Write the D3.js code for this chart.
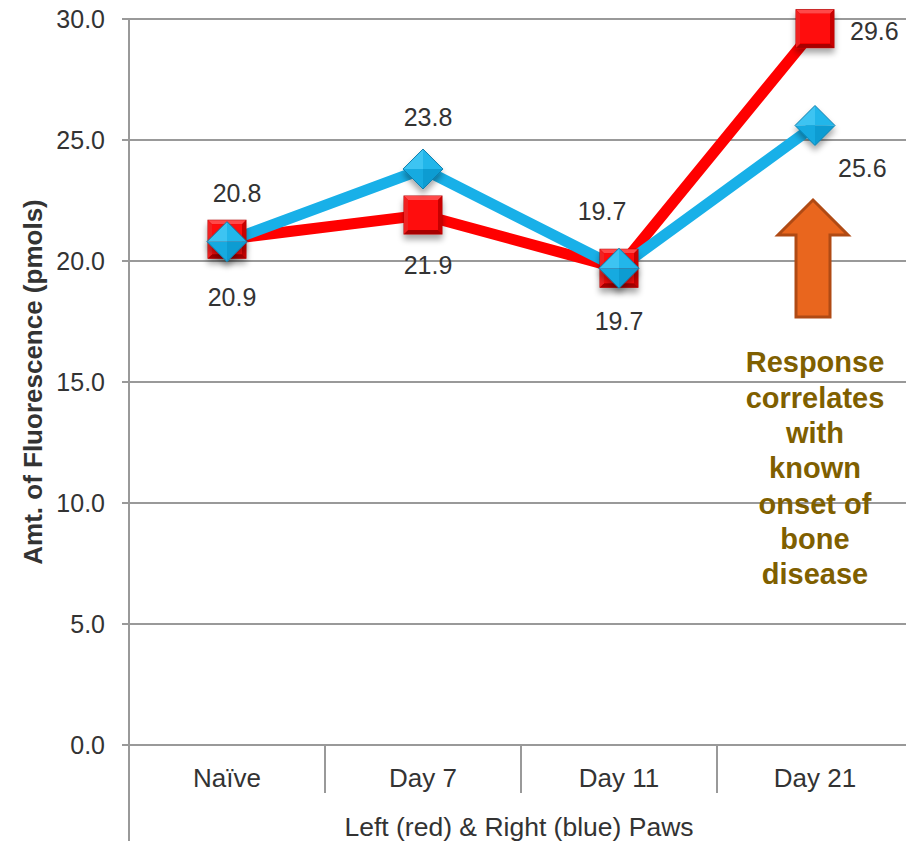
<!DOCTYPE html>
<html>
<head>
<meta charset="utf-8">
<script src="https://cdn.jsdelivr.net/npm/d3@7"></script>
<style>
  html, body { margin: 0; padding: 0; background: #fff; }
  svg { display: block; font-family: "Liberation Sans", Arial, Helvetica, sans-serif; }
</style>
</head>
<body>
<svg id="chart" width="906" height="841"></svg>
<script>
// Fluorescence readings for the left (red) and right (blue) paws
const categories = ["Naïve", "Day 7", "Day 11", "Day 21"];
const leftPaw  = [20.9, 21.9, 19.7, 29.6];
const rightPaw = [20.8, 23.8, 19.7, 25.6];
const yTicks = [0, 5, 10, 15, 20, 25, 30];
const annotationLines = ["Response", "correlates", "with", "known", "onset of", "bone", "disease"];

(function () {
const svg = d3.select("#chart");
const W = 906, H = 841;
const plotLeft = 129, plotTop = 19, plotBottom = 745, bandW = 196;

const x = d3.scaleBand().domain(categories).range([plotLeft, plotLeft + bandW * categories.length]).padding(0);
const y = d3.scaleLinear().domain([0, 30]).range([plotBottom, plotTop]);
const cx = c => x(c) + x.bandwidth() / 2;

const defs = svg.append("defs");
const shadow = defs.append("filter").attr("id", "shadow").attr("x", "-50%").attr("y", "-50%").attr("width", "200%").attr("height", "220%");
shadow.append("feGaussianBlur").attr("in", "SourceAlpha").attr("stdDeviation", 3);
shadow.append("feOffset").attr("dx", 0).attr("dy", 5).attr("result", "b");
shadow.append("feComponentTransfer").append("feFuncA").attr("type", "linear").attr("slope", 0.35);
const merge = shadow.append("feMerge");
merge.append("feMergeNode");
merge.append("feMergeNode").attr("in", "SourceGraphic");

// gridlines
svg.append("g").selectAll("line").data(yTicks).join("line")
  .attr("x1", plotLeft - 7).attr("x2", W)
  .attr("y1", d => y(d)).attr("y2", d => y(d))
  .attr("stroke", "#999").attr("stroke-width", 2);

// y axis line
svg.append("line").attr("x1", plotLeft).attr("x2", plotLeft).attr("y1", plotTop).attr("y2", H)
  .attr("stroke", "#999").attr("stroke-width", 2);

// category separators
svg.append("g").selectAll("line").data(categories.slice(1)).join("line")
  .attr("x1", d => x(d)).attr("x2", d => x(d))
  .attr("y1", plotBottom).attr("y2", 793)
  .attr("stroke", "#999").attr("stroke-width", 2);

// y tick labels
svg.append("g").selectAll("text").data(yTicks).join("text")
  .attr("x", 105).attr("y", d => y(d)).attr("dy", "0.36em")
  .attr("text-anchor", "end").attr("font-size", 25).attr("fill", "#333")
  .text(d => d.toFixed(1));

// x tick labels
svg.append("g").selectAll("text").data(categories).join("text")
  .attr("x", d => cx(d)).attr("y", 778).attr("dy", "0.36em")
  .attr("text-anchor", "middle").attr("font-size", 26).attr("fill", "#333")
  .text(d => d);

// axis titles
svg.append("text").attr("x", 519).attr("y", 826).attr("dy", "0.36em")
  .attr("text-anchor", "middle").attr("font-size", 26.5).attr("fill", "#333")
  .text("Left (red) & Right (blue) Paws");
svg.append("text").attr("transform", "translate(33,382) rotate(-90)").attr("dy", "0.36em")
  .attr("text-anchor", "middle").attr("font-size", 26).attr("font-weight", "bold").attr("fill", "#333")
  .text("Amt. of Fluorescence (pmols)");

// series lines
const line = d3.line().x((d, i) => cx(categories[i])).y(d => y(d));
svg.append("path").datum(leftPaw).attr("d", line).attr("fill", "none")
  .attr("stroke", "#ff0000").attr("stroke-width", 11).attr("stroke-linejoin", "miter");
svg.append("path").datum(rightPaw).attr("d", line).attr("fill", "none")
  .attr("stroke", "#18b0e8").attr("stroke-width", 11).attr("stroke-linejoin", "miter");

// left-paw square markers (bevelled)
const sq = 19;
const squares = svg.append("g").selectAll("g").data(leftPaw).join("g")
  .attr("transform", (d, i) => `translate(${cx(categories[i])},${y(d)})`)
  .attr("filter", "url(#shadow)");
squares.append("rect").attr("x", -sq).attr("y", -sq).attr("width", 2 * sq).attr("height", 2 * sq)
  .attr("fill", "#e00000").attr("stroke", "#b00000").attr("stroke-width", 1);
squares.append("polygon").attr("points", `${-sq},${-sq} ${sq},${-sq} ${sq - 4},${-sq + 4} ${-sq + 4},${-sq + 4}`).attr("fill", "#ff4a4a");
squares.append("polygon").attr("points", `${sq},${-sq} ${sq},${sq} ${sq - 4},${sq - 4} ${sq - 4},${-sq + 4}`).attr("fill", "#c80000");
squares.append("polygon").attr("points", `${-sq},${sq} ${sq},${sq} ${sq - 4},${sq - 4} ${-sq + 4},${sq - 4}`).attr("fill", "#a80000");
squares.append("polygon").attr("points", `${-sq},${-sq} ${-sq},${sq} ${-sq + 4},${sq - 4} ${-sq + 4},${-sq + 4}`).attr("fill", "#f02020");
squares.append("rect").attr("x", -sq + 4).attr("y", -sq + 4).attr("width", 2 * sq - 8).attr("height", 2 * sq - 8)
  .attr("fill", "#ff0a0a");

// right-paw diamond markers (faceted)
const dm = 20;
const diamonds = svg.append("g").selectAll("g").data(rightPaw).join("g")
  .attr("transform", (d, i) => `translate(${cx(categories[i])},${y(d)})`)
  .attr("filter", "url(#shadow)");
diamonds.append("polygon").attr("points", `0,${-dm} 0,0 ${-dm},0`).attr("fill", "#3cc4f2");
diamonds.append("polygon").attr("points", `0,${-dm} ${dm},0 0,0`).attr("fill", "#22b6ea");
diamonds.append("polygon").attr("points", `${dm},0 0,${dm} 0,0`).attr("fill", "#0e9cd2");
diamonds.append("polygon").attr("points", `0,${dm} ${-dm},0 0,0`).attr("fill", "#18aae0");
diamonds.append("polygon").attr("points", `0,${-dm} ${dm},0 0,${dm} ${-dm},0`)
  .attr("fill", "none").attr("stroke", "#0a7fae").attr("stroke-width", 1);

// value labels: [dx, dy] offsets from each marker
const leftOffsets  = [[5, 58], [5, 50], [0, 53], [35, 2]];
const rightOffsets = [[10, -49], [5, -52], [-17, -57], [23, 43]];
svg.append("g").selectAll("text").data(leftPaw).join("text")
  .attr("x", (d, i) => cx(categories[i]) + leftOffsets[i][0])
  .attr("y", (d, i) => y(d) + leftOffsets[i][1]).attr("dy", "0.36em")
  .attr("text-anchor", (d, i) => i === 3 ? "start" : "middle")
  .attr("font-size", 25).attr("fill", "#333").text(d => d.toFixed(1));
svg.append("g").selectAll("text").data(rightPaw).join("text")
  .attr("x", (d, i) => cx(categories[i]) + rightOffsets[i][0])
  .attr("y", (d, i) => y(d) + rightOffsets[i][1]).attr("dy", "0.36em")
  .attr("text-anchor", (d, i) => i === 3 ? "start" : "middle")
  .attr("font-size", 25).attr("fill", "#333").text(d => d.toFixed(1));

// up arrow beside the Day 21 points
const ax = cx("Day 21") - 2;
svg.append("path")
  .attr("d", `M${ax},200 L${ax + 35},235 L${ax + 17},235 L${ax + 17},317 L${ax - 17},317 L${ax - 17},235 L${ax - 35},235 Z`)
  .attr("fill", "#e9661e").attr("stroke", "#b04a14").attr("stroke-width", 3).attr("stroke-linejoin", "miter");

// annotation text
svg.append("g").selectAll("text").data(annotationLines).join("text")
  .attr("x", ax + 2).attr("y", (d, i) => 362 + i * 35.3).attr("dy", "0.36em")
  .attr("text-anchor", "middle").attr("font-size", 29).attr("font-weight", "bold").attr("fill", "#7f5f00")
  .text(d => d);
})();
</script>
</body>
</html>
